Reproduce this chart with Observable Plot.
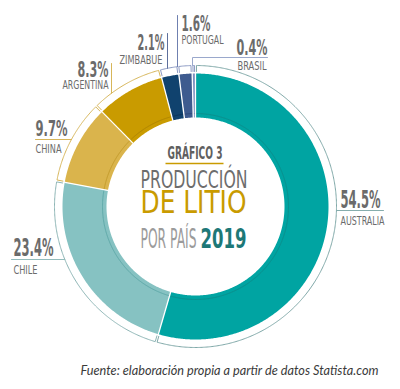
<!DOCTYPE html>
<html><head><meta charset="utf-8">
<script src="https://cdn.jsdelivr.net/npm/d3@7"></script>
<script src="https://cdn.jsdelivr.net/npm/@observablehq/plot@0.6"></script>
<style>body{margin:0;background:#fff}</style>
</head><body><div id="chart"></div>
<script>
// ---- data ----
const countries = ["AUSTRALIA", "CHILE", "CHINA", "ARGENTINA", "ZIMBABUE", "PORTUGAL", "BRASIL"];
const shares = [54.5, 23.4, 9.7, 8.3, 2.1, 1.6, 0.4];
const titleTop = "GRÁFICO 3";
const titleMain1 = "PRODUCCIÓN";
const titleMain2 = "DE LITIO";
const titleSub = "POR PAÍS";
const titleYear = "2019";
const source = "Fuente: elaboración propia a partir de datos Statista.com";

// ---- styles ----
const sliceColors = ["#00a4a2", "#86c2c2", "#dab44c", "#c99b00", "#10426e", "#3e5b8f", "#7d8fbf"];
const innerLineColors = ["#0b8f8d", "#5fa9a9", "#c49c2c", "#b08600", "#0b335a", "#2f4a7a", "#6478a8"];
const ringColors = ["#7fa8a8", "#8db5b5", "#d7b65a", "#d7b65a", "#8d9bc4", "#8d9bc4", "#8d9bc4"];
const leaderColors = ["#86adad", "#93bcbc", "#d7b65a", "#d7b65a", "#5d6f9c", "#6f80b0", "#9aa8cc"];
const R_IN = 89, R_OUT = 133, R_LINE = 93, R_RING = 141;
const FONT = "'Liberation Sans Narrow', 'DejaVu Sans Condensed', 'Roboto', sans-serif";
const GRAY = "#6b6b6b";
const NAME_SIZE = 13;

// label layout (relative to donut centre, in px units)
const labelLayout = [
  {ring: {y: 4, side: 1}, path: [[188, 4]], pct: [145, 1, "start", 40, 24], name: [145, 18, "start", 44]},
  {ring: {y: 53, side: -1}, path: [[-184, 53]], pct: [-182, 49, "start", 40, 24], name: [-182, 67, "start", 24]},
  {ring: {y: -67, side: -1}, path: [[-160, -67]], pct: [-160, -71, "start", 32, 21.5], name: [-160, -54, "start", 26]},
  {ring: {x: -84}, path: [[-84, -143]], pct: [-87, -130, "end", 31, 21.5], name: [-87, -118, "end", 46]},
  {ring: {x: -28}, path: [[-28, -173]], pct: [-31, -157, "end", 27, 21.5], name: [-33, -143, "end", 43]},
  {ring: {x: -18}, path: [[-18, -191]], pct: [-14, -176, "start", 29, 21.5], name: [-14, -163, "start", 42]},
  {ring: {x: -3}, path: [[-3, -149], [72, -149]], pct: [72, -152, "end", 31, 21.5], name: [71, -137, "end", 29]}
];

// ---- geometry from data ----
const total = d3.sum(shares);
let acc = 0;
const slices = countries.map((c, i) => {
  const a0 = acc / total * 2 * Math.PI; acc += shares[i];
  const a1 = acc / total * 2 * Math.PI;
  return {c, i, a0, a1};
});
const pt = (r, a) => ({x: r * Math.sin(a), y: -r * Math.cos(a)});
function arc(r, a0, a1) {
  const n = Math.max(2, Math.ceil((a1 - a0) / (Math.PI / 360)));
  return d3.range(n + 1).map(k => pt(r, a0 + (a1 - a0) * k / n));
}
const deg = Math.PI / 180;
const g = 0.4 * deg;

const marks = [];
slices.forEach(s => {
  const poly = [...arc(R_OUT, s.a0, s.a1), ...arc(R_IN, s.a0, s.a1).reverse()];
  marks.push(Plot.line(poly, {x: "x", y: "y", fill: sliceColors[s.i], stroke: "none"}));
  marks.push(Plot.line(arc(R_LINE, s.a0, s.a1), {x: "x", y: "y", stroke: innerLineColors[s.i], strokeWidth: 1}));
  const br = [pt(R_OUT + 2, s.a0 + g), ...arc(R_RING, s.a0 + g, s.a1 - g), pt(R_OUT + 2, s.a1 - g)];
  marks.push(Plot.line(br, {x: "x", y: "y", stroke: ringColors[s.i], strokeWidth: 1}));
});
marks.push(Plot.link(slices, {
  x1: s => pt(R_IN - 1, s.a0).x, y1: s => pt(R_IN - 1, s.a0).y,
  x2: s => pt(R_OUT + 1, s.a0).x, y2: s => pt(R_OUT + 1, s.a0).y,
  stroke: "white", strokeWidth: 1.3
}));
labelLayout.forEach((L, i) => {
  let start;
  if (L.ring.y !== undefined) start = {x: L.ring.side * Math.sqrt(R_RING ** 2 - L.ring.y ** 2), y: L.ring.y};
  else start = {x: L.ring.x, y: -Math.sqrt(R_RING ** 2 - L.ring.x ** 2)};
  const pts = [start, ...L.path.map(([x, y]) => ({x, y}))];
  marks.push(Plot.line(pts, {x: "x", y: "y", stroke: leaderColors[i], strokeWidth: 1}));
});
const pctData = slices.map(s => ({t: s.c, v: shares[s.i].toFixed(1) + "%"}));
labelLayout.forEach((L, i) => {
  marks.push(Plot.text([pctData[i]], {x: () => L.pct[0], y: () => L.pct[1], text: "v", textAnchor: L.pct[2],
    lineAnchor: "bottom", fontSize: L.pct[4], fontWeight: "bold", fontFamily: FONT, fill: GRAY, ariaDescription: "fit-" + L.pct[3]}));
  marks.push(Plot.text([pctData[i]], {x: () => L.name[0], y: () => L.name[1], text: "t", textAnchor: L.name[2],
    lineAnchor: "bottom", fontSize: NAME_SIZE, fontFamily: FONT, fill: GRAY, ariaDescription: "fit-" + L.name[3]}));
});
const centre = [
  {t: titleTop, x: -0.5, y: -48, size: 17.5, w: 55, fill: "#5f5f5f", weight: "bold", anchor: "middle"},
  {t: titleMain1, x: -1.5, y: -19, size: 24.5, w: 107, fill: "#6d6d6d", weight: "normal", anchor: "middle"},
  {t: titleMain2, x: -2, y: 6, size: 32, w: 106, fill: "#c99b00", weight: "normal", anchor: "middle"},
  {t: titleSub, x: -55, y: 41, size: 26, w: 56, fill: "#9b9b9b", weight: "normal", anchor: "start"},
  {t: titleYear, x: 51, y: 41, size: 26, w: 46, fill: "#1d7877", weight: "bold", anchor: "end"}
];
centre.forEach(c => {
  marks.push(Plot.text([c], {x: "x", y: "y", text: "t", textAnchor: c.anchor, lineAnchor: "bottom",
    fontSize: c.size, fontWeight: c.weight, fontFamily: FONT, fill: c.fill, ariaDescription: "fit-" + c.w}));
});
marks.push(Plot.link([{x1: -30, x2: 28, y: -43}], {x1: "x1", x2: "x2", y1: "y", y2: "y", stroke: "#c99b00", strokeWidth: 1.3}));
marks.push(Plot.text([{t: source, x: 183, y: 168}], {x: "x", y: "y", text: "t", textAnchor: "end", lineAnchor: "bottom",
  fontSize: 12.5, fontStyle: "italic", fontFamily: "Lato, 'Open Sans', sans-serif", fill: "#3a3a3a", ariaDescription: "fit-298"}));

const chart = Plot.plot({
  width: 400, height: 389, margin: 0,
  x: {domain: [-195, 205], range: [0, 400], axis: null},
  y: {domain: [-206, 183], range: [0, 389], axis: null},
  style: {background: "#fff"},
  marks
});
chart.querySelectorAll('[aria-description^="fit-"]').forEach(el => {
  const w = +el.getAttribute("aria-description").slice(4);
  const texts = el.tagName.toLowerCase() === "text" ? [el] : el.querySelectorAll("text");
  texts.forEach(t => {
    t.setAttribute("textLength", w);
    t.setAttribute("lengthAdjust", "spacingAndGlyphs");
  });
});
document.getElementById("chart").appendChild(chart);
</script>
</body></html>
